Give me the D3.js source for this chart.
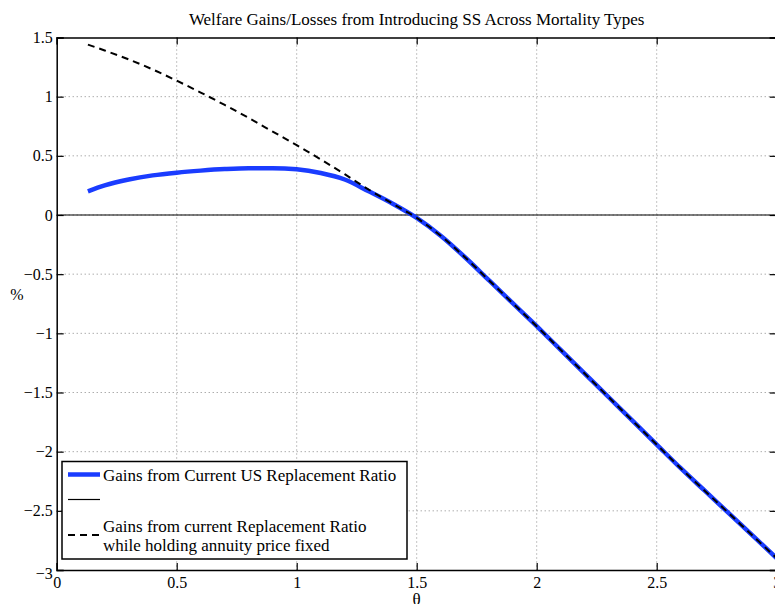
<!DOCTYPE html>
<html>
<head>
<meta charset="utf-8">
<script src="https://cdn.jsdelivr.net/npm/d3@7"></script>
<style>
	body { margin: 0; background: #fff; }
	svg text { font-family: "Liberation Serif", "Times New Roman", serif; fill: #000; }
</style>
</head>
<body>
<div id="main-view"></div>
<script>
// theta grid and the two welfare curves (%)
var thetas = [0.13, 0.2, 0.3, 0.4, 0.5, 0.6, 0.7, 0.8, 0.9, 1.0, 1.1, 1.2, 1.3, 1.4, 1.5,
	1.6, 1.7, 1.8, 1.9, 2.0, 2.1, 2.2, 2.3, 2.4, 2.5, 2.6, 2.7, 2.8, 2.9, 3.0];
var gainsCurrent = [0.20, 0.25, 0.30, 0.335, 0.358, 0.375, 0.388, 0.395, 0.395, 0.386, 0.355, 0.30, 0.20, 0.095, -0.025,
	-0.175, -0.355, -0.55, -0.745, -0.94, -1.14, -1.34, -1.54, -1.74, -1.94, -2.14, -2.33, -2.52, -2.71, -2.90];
var gainsFixedPrice = [1.44, 1.39, 1.315, 1.23, 1.135, 1.035, 0.93, 0.82, 0.705, 0.59, 0.47, 0.345, 0.215, 0.095, -0.025,
	-0.175, -0.355, -0.55, -0.745, -0.94, -1.14, -1.34, -1.54, -1.74, -1.94, -2.14, -2.33, -2.52, -2.71, -2.90];
var xTicks = [0, 0.5, 1, 1.5, 2, 2.5, 3];
var yTicks = [1.5, 1, 0.5, 0, -0.5, -1, -1.5, -2, -2.5, -3];
var legendLabels = ["Gains from Current US Replacement Ratio", "",
	["Gains from current Replacement Ratio", "while holding annuity price fixed"]];

(function() {
	var width = 775, height = 604;
	var pLeft = 56.7, pRight = 776.7, pTop = 37.5, pBottom = 570;
	var blue = '#1a3cff';

	var svg = d3.select('#main-view').append('svg')
		.attr('width', width)
		.attr('height', height);

	var x = d3.scaleLinear().domain([0, 3]).range([pLeft, pRight]);
	var y = d3.scaleLinear().domain([-3, 1.5]).range([pBottom, pTop]);

	// dotted grid
	svg.append('g').selectAll('line')
		.data(xTicks.slice(1, -1))
		.enter().append('line')
		.attr('x1', function(d) { return x(d) }).attr('x2', function(d) { return x(d) })
		.attr('y1', pTop).attr('y2', pBottom)
		.attr('stroke', '#888').attr('stroke-width', 1).attr('stroke-dasharray', '1,3');
	svg.append('g').selectAll('line')
		.data(yTicks.slice(1, -1))
		.enter().append('line')
		.attr('y1', function(d) { return y(d) }).attr('y2', function(d) { return y(d) })
		.attr('x1', pLeft).attr('x2', pRight)
		.attr('stroke', '#888').attr('stroke-width', 1).attr('stroke-dasharray', '1,3');

	// zero line
	svg.append('line')
		.attr('x1', pLeft).attr('x2', pRight)
		.attr('y1', y(0)).attr('y2', y(0))
		.attr('stroke', '#000').attr('stroke-width', 1.2);

	var line = d3.line()
		.x(function(d) { return x(d[0]) })
		.y(function(d) { return y(d[1]) })
		.curve(d3.curveMonotoneX);

	svg.append('path')
		.datum(d3.zip(thetas, gainsCurrent))
		.attr('d', line)
		.attr('fill', 'none')
		.attr('stroke', blue)
		.attr('stroke-width', 4.5);

	svg.append('path')
		.datum(d3.zip(thetas, gainsFixedPrice))
		.attr('d', line)
		.attr('fill', 'none')
		.attr('stroke', '#000')
		.attr('stroke-width', 2)
		.attr('stroke-dasharray', '7,5');

	// axes (ticks inward, box on)
	var fmt = function(d) { return String(d).replace('-', '\u2212') };
	var axB = svg.append('g').attr('transform', 'translate(0,' + pBottom + ')')
		.call(d3.axisBottom(x).tickValues(xTicks).tickSize(-7).tickPadding(7).tickFormat(fmt));
	var axT = svg.append('g').attr('transform', 'translate(0,' + pTop + ')')
		.call(d3.axisTop(x).tickValues(xTicks).tickSize(-7).tickFormat(''));
	var axL = svg.append('g').attr('transform', 'translate(' + pLeft + ',0)')
		.call(d3.axisLeft(y).tickValues(yTicks).tickSize(-7).tickPadding(4).tickFormat(fmt));
	var axR = svg.append('g').attr('transform', 'translate(' + pRight + ',0)')
		.call(d3.axisRight(y).tickValues(yTicks).tickSize(-7).tickFormat(''));
	[axB, axT, axL, axR].forEach(function(a) {
		a.select('.domain').attr('stroke', '#000').attr('stroke-width', 1.5);
		a.selectAll('.tick line').attr('stroke', '#000').attr('stroke-width', 1.2);
		a.selectAll('text').style('font-size', '16px')
			.style('font-family', '"Liberation Serif", serif').attr('fill', '#000');
	});
	// MATLAB puts the lowest y label slightly below its tick
	axL.selectAll('.tick text').filter(function(d) { return d === -3 }).attr('dy', '0.5em');

	// title and axis labels
	svg.append('text')
		.attr('x', (pLeft + pRight) / 2).attr('y', 25)
		.attr('text-anchor', 'middle')
		.style('font-size', '17px')
		.text('Welfare Gains/Losses from Introducing SS Across Mortality Types');
	svg.append('text')
		.attr('x', (pLeft + pRight) / 2).attr('y', 605)
		.attr('text-anchor', 'middle')
		.style('font-size', '17px')
		.text('\u03b8');
	svg.append('text')
		.attr('x', 17).attr('y', 300)
		.attr('text-anchor', 'middle')
		.style('font-size', '16px')
		.text('%');

	// legend
	var legend = svg.append('g');
	legend.append('rect')
		.attr('x', 62).attr('y', 461.5)
		.attr('width', 345).attr('height', 97.5)
		.attr('fill', '#fff').attr('stroke', '#000').attr('stroke-width', 1.5);
	legend.append('line')
		.attr('x1', 68).attr('x2', 100).attr('y1', 474.5).attr('y2', 474.5)
		.attr('stroke', blue).attr('stroke-width', 4.5);
	legend.append('line')
		.attr('x1', 68).attr('x2', 100).attr('y1', 499.5).attr('y2', 499.5)
		.attr('stroke', '#000').attr('stroke-width', 1.2);
	legend.append('line')
		.attr('x1', 68).attr('x2', 100).attr('y1', 535).attr('y2', 535)
		.attr('stroke', '#000').attr('stroke-width', 2).attr('stroke-dasharray', '7,5');
	legend.append('text')
		.attr('x', 103).attr('y', 480.5)
		.style('font-size', '17px')
		.text(legendLabels[0]);
	legend.append('text')
		.attr('x', 103).attr('y', 505)
		.style('font-size', '17px')
		.text(legendLabels[1]);
	legend.selectAll('.l3')
		.data(legendLabels[2])
		.enter().append('text')
		.attr('x', 103)
		.attr('y', function(d, i) { return 532 + i * 18.7 })
		.style('font-size', '17px')
		.text(function(d) { return d });
})();
</script>
</body>
</html>
